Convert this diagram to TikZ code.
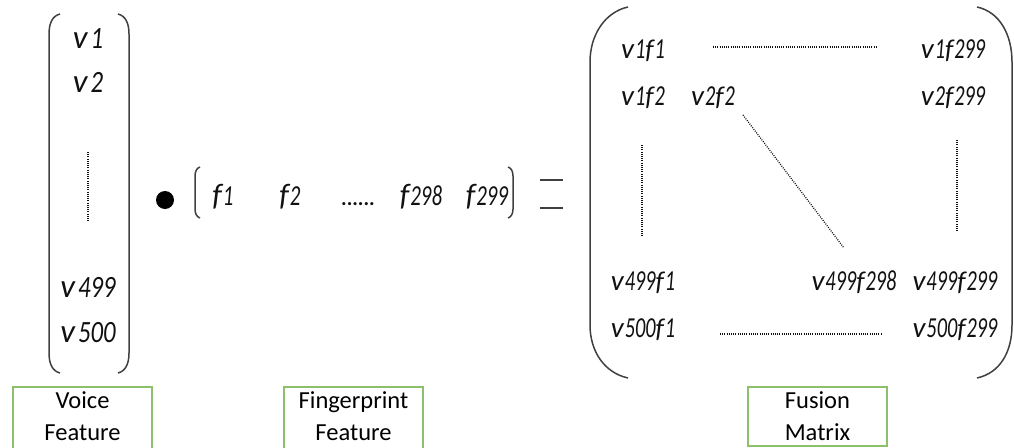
\documentclass[tikz,border=0pt]{standalone}
\usepackage{fontspec}
\usepackage{graphicx}
\setmainfont{Carlito}
\definecolor{txt}{HTML}{111111}
\definecolor{par}{HTML}{404040}
\definecolor{boxgreen}{HTML}{8CC06A}
\newcommand\dig[3]{\scalebox{#1}[1]{\fontsize{#2}{#2}\selectfont\itshape #3}}
\newcommand\vecv[1]{{\fontsize{33}{33}\selectfont\itshape v}\hspace{3pt}\dig{0.8}{31}{#1}}
\newcommand\vecf[1]{{\fontsize{31}{31}\selectfont\itshape f}\hspace{1pt}\dig{0.72}{29}{#1}}
\newcommand\matv[1]{{\fontsize{29}{29}\selectfont\itshape v}\hspace{1pt}\dig{0.7}{29}{#1}}
\newcommand\matf[1]{{\fontsize{27}{27}\selectfont\itshape f}\hspace{1pt}\dig{0.7}{29}{#1}}
\begin{document}
\begin{tikzpicture}[x=1pt,y=-1pt,
  entry/.style={anchor=base,inner sep=0pt,text=txt},
  lbl/.style={anchor=base,inner sep=0pt,text=black,font=\fontsize{24.5}{24.5}\selectfont},
  lblbox/.style={draw=boxgreen,line width=1.3pt},
  paren/.style={draw=par,line width=1.5pt},
  dotline/.style={draw=txt,line width=1.3pt,dash pattern=on 0.9pt off 1.3pt}]
\useasboundingbox (0,0) rectangle (1014,447);

% voice feature vector
\draw[paren] (60,14) .. controls (52,16) and (49,24) .. (49,34) -- (49,353) .. controls (49,363) and (52,371) .. (60,373);
\draw[paren] (118,14) .. controls (126,16) and (129,24) .. (129,34) -- (129,353) .. controls (129,363) and (126,371) .. (118,373);
\node[entry] (v1) at (88,48) {\vecv{1}};
\node[entry] (v2) at (88,92) {\vecv{2}};
\node[entry] (v499) at (88,297) {\vecv{499}};
\node[entry] (v500) at (88,342) {\vecv{500}};
\coordinate (vdA) at (88,152);
\coordinate (vdB) at (88,222);
\draw[dotline] (vdA) -- (vdB);

% product dot
\fill[black] (165,200) circle (9);

% fingerprint feature vector
\draw[paren] (200,167) .. controls (197,168) and (195,171) .. (195,176) -- (195,209) .. controls (195,214) and (197,217) .. (200,218);
\draw[paren] (508,167) .. controls (511,168) and (513,171) .. (513,176) -- (513,209) .. controls (513,214) and (511,217) .. (508,218);
\node[entry] (f1) at (223,205) {\vecf{1}};
\node[entry] (f2) at (290,205) {\vecf{2}};
\node[entry,font=\fontsize{21}{21}\selectfont\bfseries] (fdots) at (358,205) {......};
\node[entry] (f298) at (421,205) {\vecf{298}};
\node[entry] (f299) at (487,205) {\vecf{299}};

% equals sign
\draw[par,line width=1.3pt] (540,180) -- (563,180);
\draw[par,line width=1.3pt] (540,208) -- (563,208);

% fusion matrix
\draw[paren] (628,7) .. controls (605,12) and (590,35) .. (590,62) -- (590,325) .. controls (590,352) and (605,373) .. (628,378);
\draw[paren] (977,7) .. controls (1000,12) and (1012,35) .. (1012,62) -- (1012,325) .. controls (1012,352) and (1000,373) .. (977,378);
\node[entry] (m11) at (643,58) {\matv{1}\matf{1}};
\node[entry] (m1n) at (953,58) {\matv{1}\matf{299}};
\node[entry] (m12) at (643,105) {\matv{1}\matf{2}};
\node[entry] (m22) at (713,105) {\matv{2}\matf{2}};
\node[entry] (m2n) at (953,105) {\matv{2}\matf{299}};
\node[entry] (m4991) at (643,290) {\matv{499}\matf{1}};
\node[entry] (m499a) at (854,290) {\matv{499}\matf{298}};
\node[entry] (m499b) at (955,290) {\matv{499}\matf{299}};
\node[entry] (m5001) at (643,337) {\matv{500}\matf{1}};
\node[entry] (m500n) at (955,337) {\matv{500}\matf{299}};
\coordinate (hA) at (713,47);
\coordinate (hB) at (876,47);
\coordinate (hC) at (720,334);
\coordinate (hD) at (882,334);
\coordinate (lA) at (642,145);
\coordinate (lB) at (642,237);
\coordinate (rA) at (957,140);
\coordinate (rB) at (957,232);
\coordinate (dA) at (743,115);
\coordinate (dB) at (844,248);
\draw[dotline] (hA) -- (hB);
\draw[dotline] (hC) -- (hD);
\draw[dotline] (lA) -- (lB);
\draw[dotline] (rA) -- (rB);
\draw[dotline] (dA) -- (dB);

% labels
\draw[lblbox] (13,387) rectangle (152,449);
\node[lbl] (lv1) at (82.5,408) {Voice};
\node[lbl] (lv2) at (82.5,440) {Feature};
\draw[lblbox] (284,387) rectangle (423,449);
\node[lbl] (lf1) at (353.5,408) {Fingerprint};
\node[lbl] (lf2) at (353.5,440) {Feature};
\draw[lblbox] (748,387) rectangle (887,446);
\node[lbl] (lm1) at (817.5,408) {Fusion};
\node[lbl] (lm2) at (817.5,440) {Matrix};
\end{tikzpicture}
\end{document}
